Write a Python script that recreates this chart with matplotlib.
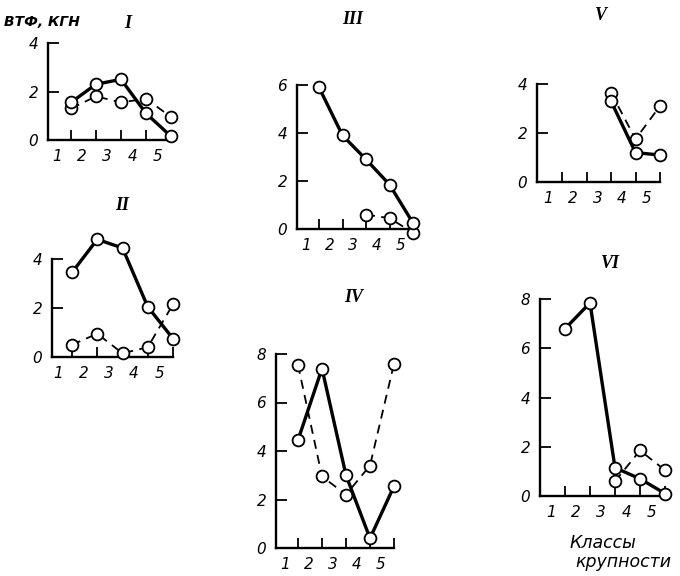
import numpy as np
import matplotlib
matplotlib.use("Agg")
import matplotlib.pyplot as plt

plt.rcParams['font.family'] = ['DejaVu Sans']
plt.rcParams['font.style'] = 'italic'

W, H = 680, 576
nan = np.nan

# ---- data ----
classes = [1, 2, 3, 4, 5]
class_labels = ['1', '2', '3', '4', '5']

p1_solid = [1.55, 2.3, 2.5, 1.1, 0.15]
p1_dash = [1.3, 1.8, 1.55, 1.7, 0.95]
p2_solid = [3.45, 4.8, 4.45, 2.05, 0.75]
p2_dash = [0.5, 0.95, 0.15, 0.4, 2.15]
p3_solid = [5.9, 3.9, 2.9, 1.85, 0.25]
p3_dash = [nan, nan, 0.6, 0.45, -0.15]
p4_solid = [4.45, 7.4, 3.0, 0.4, 2.55]
p4_dash = [7.55, 2.95, 2.2, 3.4, 7.6]
p5_solid = [nan, nan, 3.3, 1.2, 1.1]
p5_dash = [nan, nan, 3.65, 1.75, 3.1]
p6_solid = [6.8, 7.85, 1.15, 0.7, 0.1]
p6_dash = [nan, nan, 0.6, 1.85, 1.05]

titles = ['I', 'II', 'III', 'IV', 'V', 'VI']
y_label = 'ВТФ, КГН'
x_label_1 = 'Классы'
x_label_2 = 'крупности'

# ---- layout (pixel geometry of each panel) ----
panels = [
    dict(x0=48, t1=71, t5=171, yb=140, ppu=24.25, ymax=4, spine_top=4, yticks=[0, 2, 4],
         solid=p1_solid, dash=p1_dash, title=titles[0], tpos=(128, 24)),
    dict(x0=52, t1=72, t5=173, yb=357, ppu=24.5, ymax=5, spine_top=4, yticks=[0, 2, 4],
         solid=p2_solid, dash=p2_dash, title=titles[1], tpos=(122, 205)),
    dict(x0=297, t1=319, t5=413, yb=229, ppu=24.0, ymax=6, spine_top=6, yticks=[0, 2, 4, 6],
         solid=p3_solid, dash=p3_dash, title=titles[2], tpos=(353, 20)),
    dict(x0=276, t1=298, t5=394, yb=548, ppu=24.25, ymax=8, spine_top=8, yticks=[0, 2, 4, 6, 8],
         solid=p4_solid, dash=p4_dash, title=titles[3], tpos=(354, 297)),
    dict(x0=537, t1=562, t5=660, yb=182, ppu=24.5, ymax=4, spine_top=4, yticks=[0, 2, 4],
         solid=p5_solid, dash=p5_dash, title=titles[4], tpos=(601, 15)),
    dict(x0=540, t1=565, t5=665, yb=496, ppu=24.6, ymax=8, spine_top=8, yticks=[0, 2, 4, 6, 8],
         solid=p6_solid, dash=p6_dash, title=titles[5], tpos=(610, 263)),
]

fig = plt.figure(figsize=(W / 100, H / 100), dpi=100)
fig.patch.set_facecolor('white')


def fx(px):
    return px / W


def fy(py):
    return 1 - py / H


tick_font = dict(family='DejaVu Sans', style='italic', size=11)

for p in panels:
    sp = (p['t5'] - p['t1']) / 4.0
    top_px = p['yb'] - p['ymax'] * p['ppu']
    ax = fig.add_axes([fx(p['x0']), fy(p['yb']), fx(p['t5'] - p['x0']), (p['yb'] - top_px) / H])
    ax.set_xlim(1 - (p['t1'] - p['x0']) / sp, 5)
    ax.set_ylim(0, p['ymax'])
    ax.patch.set_alpha(0)
    for s in ['top', 'right']:
        ax.spines[s].set_visible(False)
    for s in ['left', 'bottom']:
        ax.spines[s].set_linewidth(1.7)
        ax.spines[s].set_capstyle('projecting')
    ax.spines['left'].set_bounds(0, p['spine_top'])

    ax.set_xticks(classes)
    ax.set_xticklabels([])
    ax.set_xticks([c - 0.55 for c in classes], minor=True)
    ax.set_xticklabels(class_labels, minor=True, fontdict=tick_font)
    ax.tick_params(axis='x', which='major', direction='in', length=7.5, width=1.3)
    ax.tick_params(axis='x', which='minor', length=0, pad=6.5)
    ax.set_yticks(p['yticks'])
    ax.set_yticklabels([str(v) for v in p['yticks']], fontdict=tick_font)
    ax.tick_params(axis='y', direction='in', length=8, width=1.3, pad=7)

    ax.plot(classes, p['dash'], color='black', lw=1.3, dashes=(5, 3.5),
            marker='o', ms=8.5, mfc='white', mec='black', mew=1.3, clip_on=False, zorder=3)
    ax.plot(classes, p['solid'], color='black', lw=2.4, solid_capstyle='round',
            marker='o', ms=8.5, mfc='white', mec='black', mew=1.3, clip_on=False, zorder=4)

    fig.text(fx(p['tpos'][0]), fy(p['tpos'][1]), p['title'], ha='center', va='center',
             family='Liberation Serif', style='italic', weight='bold', size=13)

fig.text(fx(4), fy(22), y_label, ha='left', va='center', family='DejaVu Sans',
         style='italic', weight='bold', size=10)
fig.text(fx(603), fy(543), x_label_1, ha='center', va='center', family='DejaVu Sans',
         style='italic', size=12.5)
fig.text(fx(623), fy(562), x_label_2, ha='center', va='center', family='DejaVu Sans',
         style='italic', size=12.5)

fig.savefig('out.png', dpi=100, facecolor='white')
